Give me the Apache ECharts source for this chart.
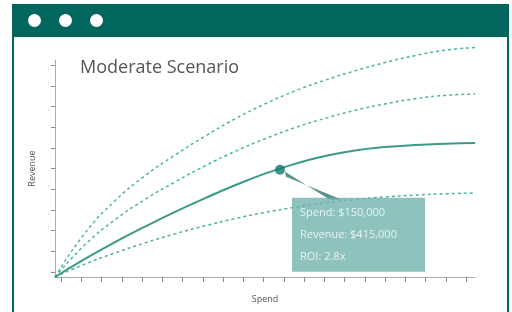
<!DOCTYPE html>
<html>
<head>
<meta charset="utf-8">
<script src="https://cdn.jsdelivr.net/npm/echarts@6/dist/echarts.min.js"></script>
<style>
  html, body { margin:0; padding:0; background:#fff; }
  #wrap { position:relative; width:512px; height:312px; overflow:hidden; background:#fff; }
  #frame { position:absolute; left:12px; top:4px; width:493px; height:330px; border-left:2px solid #00665e; border-right:2px solid #00665e; box-sizing:content-box; }
  #head { position:absolute; left:12px; top:4px; width:497px; height:33px; background:#00665e; }
  .dot { position:absolute; top:10px; width:13px; height:13px; border-radius:50%; background:#fff; }
  #chart { position:absolute; left:0; top:0; width:512px; height:312px; }
</style>
</head>
<body>
<div id="wrap">
  <div id="frame"></div>
  <div id="head">
    <div class="dot" style="left:16px"></div>
    <div class="dot" style="left:47px"></div>
    <div class="dot" style="left:78px"></div>
  </div>
  <div id="chart"></div>
</div>
<script>
// Spend in $k
var spend = [0, 20, 40, 60, 80, 100, 120, 140, 160, 180, 200, 220, 240, 260, 280];
// Revenue in $k for four scenarios
var revenueHigh      = [0, 170, 295, 392, 472, 545, 612, 670, 720, 762, 798, 830, 857, 878, 888];
var revenueUpper     = [0, 125, 222, 300, 368, 430, 486, 535, 578, 614, 645, 670, 690, 703, 708];
var revenueModerate  = [0, 70, 135, 195, 252, 305, 355, 400, 438, 468, 490, 503, 511, 516, 519];
var revenueLow       = [0, 50, 93, 132, 167, 198, 226, 250, 270, 287, 300, 310, 317, 322, 325];
// highlighted point
var markerSpend = 150;
var markerRevenue = 415;
// tick positions (unlabelled)
var xTickValues = [4, 17.5, 31, 44.5, 58, 71.5, 85, 98.5, 112, 125.5, 139, 152.5, 166, 179.5, 193, 206.5, 220, 233.5, 247, 260.5, 274];
var yTickValues = [20, 100, 180, 260, 340, 420, 500, 580, 660, 740, 820];

var titleText = 'Moderate Scenario';
var xName = 'Spend';
var yName = 'Revenue';

function pairs(xs, ys) { return xs.map(function (x, i) { return [x, ys[i]]; }); }
function money(k) { return '$' + (k * 1000).toLocaleString('en-US'); }

var dotted = { type: [3, 3], width: 1.5, color: '#4fb3a2' };

var chart = echarts.init(document.getElementById('chart'), null, { renderer: 'canvas' });
chart.setOption({
  animation: false,
  title: {
    text: titleText, left: 75, top: 54,
    textStyle: { fontFamily: 'Open Sans', fontWeight: 'normal', fontSize: 18, color: '#555' }
  },
  grid: { left: 55, right: 37, top: 60, bottom: 35 },
  xAxis: {
    type: 'value', min: 0, max: 280,
    name: xName, nameLocation: 'middle', nameGap: 18,
    nameTextStyle: { fontFamily: 'Open Sans', fontSize: 9, color: '#555' },
    axisLine: { lineStyle: { color: '#aaa', width: 1 } },
    axisTick: { show: true, customValues: xTickValues, length: 5, lineStyle: { color: '#888' } },
    axisLabel: { show: false },
    splitLine: { show: false }
  },
  yAxis: {
    type: 'value', min: 0, max: 840, offset: 6,
    name: yName, nameLocation: 'middle', nameGap: 12, nameRotate: 90,
    nameTextStyle: { fontFamily: 'Open Sans', fontSize: 9, color: '#555' },
    axisLine: { show: true, lineStyle: { color: '#aaa', width: 1 } },
    axisTick: { show: true, customValues: yTickValues, length: 4, lineStyle: { color: '#888' } },
    axisLabel: { show: false },
    splitLine: { show: false }
  },
  series: [
    { type: 'line', data: pairs(spend, revenueHigh), smooth: true, showSymbol: false, clip: false, lineStyle: dotted, silent: true },
    { type: 'line', data: pairs(spend, revenueUpper), smooth: true, showSymbol: false, clip: false, lineStyle: dotted, silent: true },
    { type: 'line', data: pairs(spend, revenueLow), smooth: true, showSymbol: false, clip: false, lineStyle: dotted, silent: true },
    { type: 'line', data: pairs(spend, revenueModerate), smooth: true, showSymbol: false, clip: false,
      lineStyle: { width: 2, color: '#3a9a88' }, silent: true },
    {
      type: 'scatter', data: [[markerSpend, markerRevenue]], symbolSize: 10,
      itemStyle: { color: '#0b7a6e' }, silent: true, z: 10,
      label: {
        show: true, position: 'inside',
        formatter: function () {
          return 'Spend: ' + money(markerSpend) + '\nRevenue: ' + money(markerRevenue) +
                 '\nROI: ' + (markerRevenue / markerSpend).toFixed(1) + 'x';
        },
        backgroundColor: '#72b3ac', color: '#fff', fontFamily: 'Open Sans', fontSize: 11,
        lineHeight: 22, width: 118, align: 'left', padding: [5, 7, 3, 8]
      },
      labelLayout: { dx: 12, dy: 65 }
    }
  ]
});

// callout pointer from the highlighted point to the label box (annotation)
var p = chart.convertToPixel({ gridIndex: 0 }, [markerSpend, markerRevenue]);
chart.setOption({
  graphic: [{
    type: 'polygon', z: 5, silent: true,
    shape: { points: [[p[0] + 5, p[1] + 2], [p[0] + 6, p[1] + 7], [p[0] + 62, p[1] + 30], [p[0] + 50, p[1] + 30]] },
    style: { fill: '#5a918c' }
  }]
});
</script>
</body>
</html>
